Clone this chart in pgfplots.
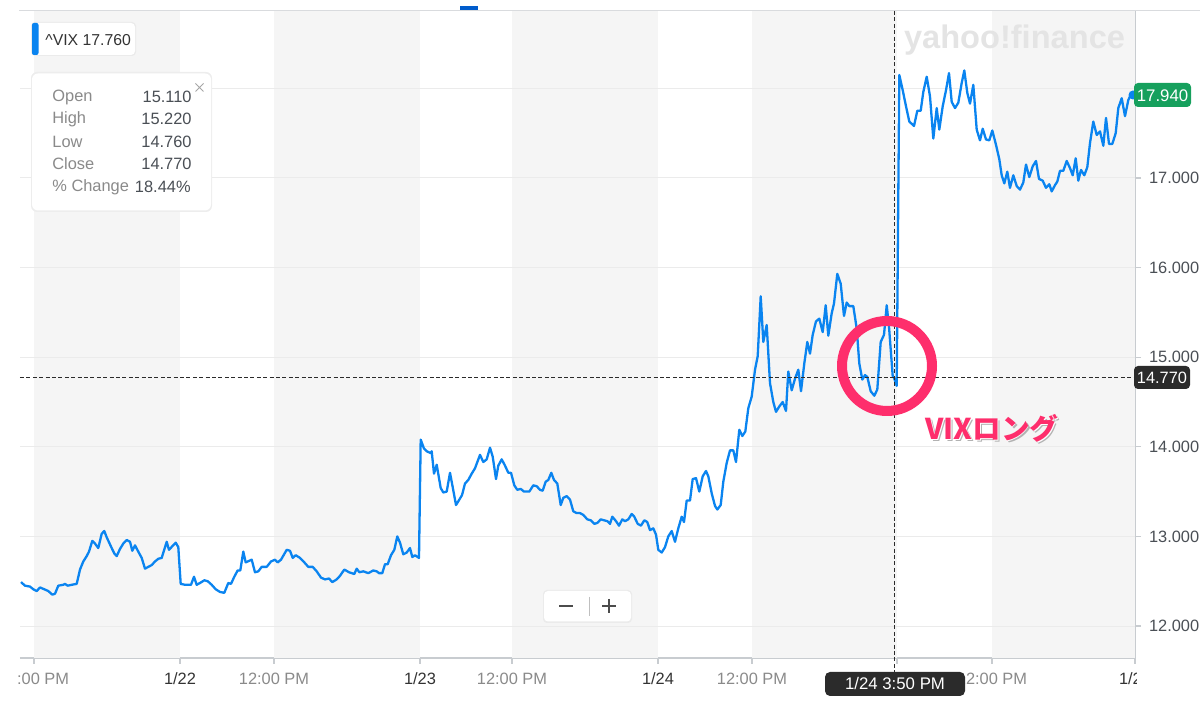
\documentclass[border=0pt]{standalone}
\usepackage{pgfplots}
\usepackage{pgfplotstable}
\pgfplotsset{compat=1.18}
\usepackage{fontspec}
\setmainfont{Liberation Sans}
\newfontfamily\jpfont{Noto Sans CJK JP}
\definecolor{vixblue}{HTML}{0A84F0}
\definecolor{band}{HTML}{F5F5F5}
\definecolor{gridc}{HTML}{EBEBEB}
\definecolor{axc}{HTML}{C8CCD0}
\definecolor{lblgray}{HTML}{8A8A8A}
\definecolor{lbldark}{HTML}{333333}
\definecolor{ylbl}{HTML}{4A4F55}
\definecolor{tipdark}{HTML}{2B2B2B}
\definecolor{yfgreen}{HTML}{16A05D}
\definecolor{hot}{RGB}{254,46,108}
\definecolor{wm}{HTML}{E4E4E4}

\pgfplotstableread{
x y
21 12.49
25 12.45
30 12.44
33.3 12.41
36.7 12.39
40 12.43
44.3 12.41
48.3 12.39
52.3 12.35
55 12.36
58.3 12.45
63.3 12.46
65 12.47
67.7 12.45
71.7 12.46
76.7 12.47
80 12.63
83.3 12.72
86.7 12.78
89 12.83
92.3 12.95
95 12.92
98.3 12.87
101.7 13.03
104.3 13.06
106.7 12.99
111.7 12.87
114.3 12.81
116.7 12.78
120 12.86
123.3 12.92
126.7 12.96
130 12.94
132.3 12.84
135 12.90
138.3 12.83
141.7 12.76
145 12.64
148.3 12.66
151.7 12.68
155 12.72
158.3 12.75
161.7 12.76
166.7 12.94
169 12.85
172.3 12.89
175.7 12.93
178.3 12.88
180.7 12.47
185 12.46
191 12.46
194 12.55
196.7 12.46
200 12.48
204.3 12.51
207.7 12.50
211.7 12.46
215.7 12.41
220 12.38
224.3 12.37
228.3 12.48
231 12.47
234.3 12.55
237.7 12.62
240.3 12.62
243.3 12.83
245.7 12.71
251.7 12.74
255 12.60
258.3 12.61
261.7 12.66
266.7 12.66
271 12.72
275 12.74
277.7 12.71
281 12.74
286.7 12.85
290 12.84
292.7 12.76
295.7 12.79
300 12.76
304.3 12.71
308.3 12.66
312.7 12.66
316.7 12.61
321 12.54
325 12.52
329 12.53
332.3 12.49
336.7 12.52
340 12.56
344.3 12.63
349 12.60
354.3 12.58
356.7 12.64
359.3 12.60
363.3 12.61
368.3 12.59
373.3 12.62
376.7 12.61
379 12.59
382.3 12.59
385 12.69
387.7 12.69
391 12.79
394.3 12.85
397.3 13.00
400 12.93
403.3 12.80
406.7 12.82
410 12.87
412.3 12.77
415 12.79
419 12.76
420.7 14.08
424 13.98
426.7 13.95
430.7 13.93
431.7 13.95
434 13.70
436.7 13.80
440.7 13.54
443.3 13.49
446.7 13.50
450 13.71
452.7 13.55
456 13.35
459.3 13.41
462 13.46
465 13.59
468.3 13.63
471.7 13.70
475 13.76
480 13.91
483.3 13.83
486.7 13.86
490 13.99
492.7 13.89
496 13.64
498.3 13.79
501.7 13.86
505 13.79
508.3 13.71
511 13.71
514.3 13.57
517.3 13.52
520.7 13.53
524 13.50
529.3 13.50
533.3 13.57
536.7 13.56
540 13.52
542.7 13.51
545.7 13.61
548.3 13.63
551.3 13.71
554 13.63
557.3 13.59
560.7 13.35
563.3 13.43
566.7 13.45
570 13.41
573.3 13.28
576.7 13.26
580 13.26
583.3 13.24
587.3 13.19
590.7 13.18
594.3 13.14
597.3 13.15
600.7 13.19
604 13.18
607.3 13.17
610 13.14
612.3 13.22
616 13.17
619 13.12
622.3 13.19
625 13.17
628.3 13.19
631.7 13.25
634.3 13.22
637.7 13.14
641 13.12
644.3 13.18
647.3 13.16
650 13.07
653.3 13.09
656 13.02
658.3 12.85
661.7 12.82
665 12.88
668.3 13.00
671.7 13.06
675 12.94
678.3 13.09
681.7 13.22
684 13.16
686.7 13.40
690 13.40
692.7 13.64
696 13.65
699.3 13.50
702.7 13.67
706 13.73
708.3 13.67
711.7 13.48
715 13.34
717.3 13.30
720.7 13.35
723.3 13.61
726.7 13.82
730 13.96
733.3 13.96
736 13.83
739.3 14.19
742.3 14.12
745.3 14.17
748.3 14.43
751.7 14.56
755 14.86
757.7 15.01
760.7 15.68
763.3 15.17
766.7 15.36
770 14.71
773.3 14.50
776 14.39
779.3 14.45
782.7 14.50
786 14.40
788.3 14.84
791.7 14.63
795 14.76
798.3 14.86
801 14.62
804.3 14.93
807.3 15.17
810 15.04
812.7 15.25
816 15.40
819.3 15.43
822.7 15.28
825.7 15.58
828.3 15.24
831.7 15.49
834 15.60
837.3 15.93
840.7 15.82
844 15.46
846.7 15.61
849.3 15.57
853.3 15.57
856.7 15.32
859.3 14.93
862.3 14.75
865 14.80
867.3 14.78
870.7 14.62
874.3 14.57
877.3 14.64
880.7 15.17
884 15.25
886.7 15.58
889 15.34
892.7 14.79
894 14.77
896.7 14.68
899.3 18.15
902.7 17.98
906 17.80
909.3 17.63
914 17.58
917.3 17.75
920.7 17.75
923.3 17.96
926.7 18.13
930 17.91
933.3 17.44
936.7 17.78
939.3 17.54
942.7 17.80
946 17.98
949 18.17
951.7 17.85
955 17.78
958.3 17.84
961.7 18.06
964.3 18.20
967.3 17.95
970 17.83
973.3 18.04
976.7 17.54
980 17.42
982.7 17.55
986 17.43
989.3 17.42
992.3 17.53
996 17.37
999.3 17.21
1001.7 17.03
1004.3 16.94
1007.3 17.07
1010 16.89
1013.3 17.03
1016.7 16.91
1020 16.87
1023.3 16.95
1026 17.15
1029.3 17.01
1032.7 17.13
1036 17.19
1039 16.99
1042.7 16.97
1046 16.89
1049.3 16.93
1051.7 16.85
1055 16.92
1057.3 16.96
1060 17.08
1063.3 17.08
1066.7 17.19
1070 17.11
1072.7 17.03
1075.7 17.22
1078.3 16.97
1081 17.09
1084.3 17.03
1087.3 17.12
1090 17.39
1093.3 17.63
1096.7 17.48
1100 17.52
1103.3 17.36
1106 17.67
1109 17.38
1112.3 17.38
1115.7 17.50
1118.3 17.78
1121.7 17.89
1125 17.69
1128.3 17.87
1131.7 17.95
1133 17.94
}\vixdata

\begin{document}
\begin{tikzpicture}
\begin{axis}[
  at={(10pt,23pt)}, anchor=south west,
  scale only axis, width=557.5pt, height=324pt,
  xmin=20, xmax=1135, ymin=11.643, ymax=18.875,
  axis x line*=bottom, axis y line*=right,
  axis line style={draw=axc, line width=0.6pt},
  tick align=outside,
  major tick length=3pt,
  tick style={draw=axc, line width=0.6pt},
  xtick={34,180,274,420,512,658,752,897,992,1135},
  xticklabels={\textcolor{lblgray}{12:00 PM},\textcolor{lbldark}{1/22},\textcolor{lblgray}{12:00 PM},\textcolor{lbldark}{1/23},\textcolor{lblgray}{12:00 PM},\textcolor{lbldark}{1/24},\textcolor{lblgray}{12:00 PM},\textcolor{lbldark}{1/25},\textcolor{lblgray}{12:00 PM},\textcolor{lbldark}{1/26}},
  ytick={12,13,14,15,16,17},
  tick label style={font=\fontsize{8.2}{10}\selectfont},
  yticklabel style={text=ylbl, anchor=west, xshift=0.5pt,
    /pgf/number format/.cd, fixed, fixed zerofill, precision=3, 1000 sep={}, assume math mode=true},
  xticklabel style={yshift=-1pt},
]
\fill[band] (34,11.643) rectangle (180,18.875);
\fill[band] (274,11.643) rectangle (420,18.875);
\fill[band] (512,11.643) rectangle (658,18.875);
\fill[band] (752,11.643) rectangle (897,18.875);
\fill[band] (992,11.643) rectangle (1135,18.875);
\pgfplotsinvokeforeach{12,13,14,15,16,17,18}{
  \draw[gridc, line width=0.5pt] (20,#1) -- (1135,#1);
}
\addplot[vixblue, line width=1.15pt, line join=round, mark=none] table[x=x,y=y] {\vixdata};
\draw[tipdark, dash pattern=on 2pt off 1.2pt, line width=0.5pt] (20,14.77) -- (1135,14.77);
\end{axis}

\begin{scope}[shift={(0pt,352pt)}, x=0.5pt, y=-0.5pt]
  % top border and cut toolbar hint
  \draw[draw=axc!70, line width=0.5pt] (19,10.5) -- (1200,10.5);
  \fill[blue!55!cyan!80!black] (460,6.5) rectangle (478,10);
  % covers for clipped tick labels
  \fill[white] (0,662) rectangle (18,704);
  \fill[white] (1137,662) rectangle (1200,704);
  % vertical crosshair
  \draw[tipdark, dash pattern=on 2pt off 1.2pt, line width=0.5pt] (894,11) -- (894,672);
  % watermark
  \node[text=wm, font=\bfseries\fontsize{16.3}{17}\selectfont, inner sep=0pt] at (1014.5,40) {yahoo!finance};
  % ^VIX box
  \fill[black!8, rounded corners=2pt] (31,22) rectangle (136,56);
  \fill[white, rounded corners=2pt] (32,23) rectangle (135,55);
  \fill[vixblue, rounded corners=1pt] (32,23) rectangle (38.5,55);
  \node[anchor=west, text=lbldark, font=\fontsize{7.9}{9}\selectfont, inner sep=0pt] at (45,40) {\textasciicircum VIX 17.760};
  % info box
  \fill[black!7, rounded corners=3pt] (31,72) rectangle (212,212);
  \fill[white, rounded corners=3pt] (32,73.5) rectangle (211,210.5);
  \begin{scope}[every node/.style={inner sep=0pt, font=\fontsize{8.2}{10}\selectfont}]
    \node[anchor=west, text=lblgray] at (52,97) {Open};
    \node[anchor=west, text=lblgray] at (52,119) {High};
    \node[anchor=west, text=lblgray] at (52,142) {Low};
    \node[anchor=west, text=lblgray] at (52,164) {Close};
    \node[anchor=west, text=lblgray] at (52,187) {\% Change};
    \node[anchor=east, text=ylbl] at (192,97) {15.110};
    \node[anchor=east, text=ylbl] at (192,119) {15.220};
    \node[anchor=east, text=ylbl] at (192,142) {14.760};
    \node[anchor=east, text=ylbl] at (192,164) {14.770};
    \node[anchor=east, text=ylbl] at (191,187) {18.44\%};
  \end{scope}
  \draw[black!35, line width=0.4pt] (195.5,83.5) -- (203.5,91.5) (195.5,91.5) -- (203.5,83.5);
  % zoom buttons
  \fill[black!8, rounded corners=2pt] (543,590) rectangle (632,623);
  \fill[white, rounded corners=2pt] (544,591) rectangle (631,621.5);
  \draw[black!70, line width=0.9pt] (559,606) -- (573,606);
  \draw[black!70, line width=0.9pt] (602,606) -- (616,606) (609,599) -- (609,613);
  \draw[black!25, line width=0.5pt] (589.5,597) -- (589.5,616);
  % end dot and labels
  \fill[vixblue] (1133,95) circle[radius=4.5];
  \fill[yfgreen, rounded corners=2pt] (1134,83) rectangle (1191,107);
  \node[text=white, font=\fontsize{8.4}{10}\selectfont, inner sep=0pt] at (1162.5,95.5) {17.940};
  \fill[tipdark, rounded corners=2pt] (1134,366) rectangle (1190,389);
  \node[text=white, font=\fontsize{8.2}{10}\selectfont, inner sep=0pt] at (1162,377.5) {14.770};
  \fill[tipdark, rounded corners=2.5pt] (825,672) rectangle (965,696);
  \node[text=white, font=\fontsize{8.4}{10}\selectfont, inner sep=0pt] at (895,684) {1/24 3:50 PM};
  % annotation
  \draw[hot, line width=5pt] (887,366) circle[radius=45];
  \node[text=black!30, font=\jpfont\bfseries\fontsize{14.3}{16}\selectfont, inner sep=0pt] at (994,430.5) {VIXロング};
  \node[text=white, font=\jpfont\bfseries\fontsize{14.3}{16}\selectfont, inner sep=0pt] at (992.5,429) {VIXロング};
  \node[text=hot, font=\jpfont\bfseries\fontsize{14.3}{16}\selectfont, inner sep=0pt] at (992,428) {VIXロング};
\end{scope}
\pgfresetboundingbox
\useasboundingbox (0pt,0pt) rectangle (600pt,352pt);
\end{tikzpicture}
\end{document}
